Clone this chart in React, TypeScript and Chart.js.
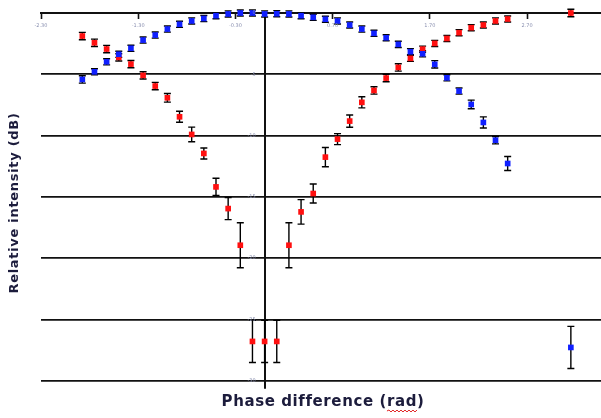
import React, { useEffect, useRef } from "react";
import { Chart, registerables } from "chart.js";

Chart.register(...registerables);

// Phase difference (rad)
const phase = [
  -1.875, -1.75, -1.625, -1.5, -1.375, -1.25, -1.125, -1.0, -0.875, -0.75, -0.625, -0.5,
  -0.375, -0.25, -0.125, 0, 0.125, 0.25, 0.375, 0.5, 0.625, 0.75, 0.875, 1.0, 1.125, 1.25,
  1.375, 1.5, 1.625, 1.75, 1.875, 2.0, 2.125, 2.25, 2.375, 2.5, 3.15,
];

// Red series (dB) and error half-widths
const redIntensity = [
  -1.88, -2.43, -2.94, -3.62, -4.17, -5.09, -5.96, -6.92, -8.47, -9.91, -11.46, -14.19,
  -15.96, -18.95, -26.8, -26.8, -26.8, -18.95, -16.23, -14.73, -11.76, -10.29, -8.82, -7.29,
  -6.32, -5.31, -4.44, -3.7, -2.95, -2.48, -2.08, -1.61, -1.2, -0.98, -0.65, -0.49, 0,
];
const redError = [
  0.3, 0.3, 0.3, 0.3, 0.3, 0.3, 0.3, 0.35, 0.45, 0.6, 0.45, 0.7, 0.9, 1.84, 1.72, 1.72, 1.72,
  1.84, 1.0, 0.78, 0.78, 0.45, 0.5, 0.45, 0.3, 0.3, 0.3, 0.25, 0.25, 0.25, 0.25, 0.25, 0.25,
  0.25, 0.25, 0.25, 0.3,
];

// Blue series (dB) and error half-widths
const blueIntensity = [
  -5.42, -4.8, -3.98, -3.37, -2.88, -2.21, -1.8, -1.31, -0.92, -0.65, -0.45, -0.22, -0.08, 0,
  0, -0.08, -0.06, -0.08, -0.22, -0.35, -0.51, -0.65, -0.98, -1.31, -1.66, -2.02, -2.56, -3.16,
  -3.33, -4.19, -5.29, -6.37, -7.46, -8.93, -10.38, -12.28, -27.29,
];
const blueError = [
  0.3, 0.25, 0.25, 0.25, 0.25, 0.25, 0.25, 0.25, 0.25, 0.25, 0.25, 0.25, 0.25, 0.25, 0.25,
  0.25, 0.25, 0.25, 0.25, 0.25, 0.25, 0.25, 0.25, 0.25, 0.25, 0.25, 0.25, 0.25, 0.25, 0.3,
  0.25, 0.25, 0.35, 0.45, 0.3, 0.57, 1.72,
];

const xTickValues = [-2.3, -1.3, -0.3, 0.7, 1.7, 2.7];
const yTickValues = [0, -5, -10, -15, -20, -25, -30];

const xTitle = "Phase difference (rad)";
const yTitle = "Relative intensity (dB)";

const AXIS_COLOR = "#111111";
const TICK_LABEL_COLOR = "#8a90b0";
const TITLE_COLOR = "#1c1c3c";

const errorBarPlugin = {
  id: "errorBars",
  beforeDatasetsDraw(chart: any) {
    const ctx = chart.ctx;
    const xs = chart.scales.x;
    const ys = chart.scales.y;
    ctx.save();
    ctx.strokeStyle = "#000000";
    ctx.lineWidth = 1.4;
    chart.data.datasets.forEach((ds: any) => {
      const errs: number[] = ds.errors || [];
      ds.data.forEach((pt: any, j: number) => {
        const e = errs[j] || 0;
        const x = xs.getPixelForValue(pt.x);
        const y1 = ys.getPixelForValue(pt.y + e);
        const y2 = ys.getPixelForValue(pt.y - e);
        const cap = 3.5;
        ctx.beginPath();
        ctx.moveTo(x, y1);
        ctx.lineTo(x, y2);
        ctx.moveTo(x - cap, y1);
        ctx.lineTo(x + cap, y1);
        ctx.moveTo(x - cap, y2);
        ctx.lineTo(x + cap, y2);
        ctx.stroke();
      });
    });
    ctx.restore();
  },
};

const labelsPlugin = {
  id: "labelsAndTitles",
  afterDraw(chart: any) {
    const ctx = chart.ctx;
    const xs = chart.scales.x;
    const ys = chart.scales.y;
    ctx.save();
    // x tick labels (below the top axis line)
    ctx.fillStyle = TICK_LABEL_COLOR;
    ctx.font = "5px 'DejaVu Sans'";
    ctx.textAlign = "center";
    ctx.textBaseline = "middle";
    const y0 = ys.getPixelForValue(0);
    xs.ticks.forEach((t: any) => {
      const px = xs.getPixelForValue(t.value);
      ctx.fillText(t.value.toFixed(2), px, y0 + 13);
    });
    // y tick labels (left of the vertical axis)
    const x0 = xs.getPixelForValue(0);
    ctx.textAlign = "right";
    ys.ticks.forEach((t: any) => {
      const py = ys.getPixelForValue(t.value);
      ctx.fillText(String(t.value), x0 - 9, py);
    });
    // x title
    ctx.fillStyle = TITLE_COLOR;
    ctx.font = "bold 15px 'DejaVu Sans'";
    (ctx as any).letterSpacing = "0.6px";
    ctx.textAlign = "center";
    ctx.textBaseline = "middle";
    const cx = 323;
    const cy = 402;
    ctx.fillText(xTitle, cx, cy);
    // red wavy underline under "rad"
    const full = ctx.measureText(xTitle).width;
    const before = ctx.measureText("Phase difference (").width;
    const radW = ctx.measureText("rad").width;
    const startX = cx - full / 2 + before;
    ctx.strokeStyle = "#e02020";
    ctx.lineWidth = 1;
    ctx.beginPath();
    let up = true;
    ctx.moveTo(startX, cy + 9);
    for (let xx = startX + 2; xx <= startX + radW + 1; xx += 2) {
      ctx.lineTo(xx, cy + (up ? 8 : 10));
      up = !up;
    }
    ctx.stroke();
    // y title
    ctx.fillStyle = TITLE_COLOR;
    ctx.font = "bold 13px 'DejaVu Sans'";
    (ctx as any).letterSpacing = "0.7px";
    ctx.translate(15, 203);
    ctx.rotate(-Math.PI / 2);
    ctx.textAlign = "center";
    ctx.textBaseline = "middle";
    ctx.fillText(yTitle, 0, 0);
    ctx.restore();
  },
};

export default function App() {
  const ref = useRef<HTMLCanvasElement | null>(null);

  useEffect(() => {
    if (!ref.current) return;
    const toPoints = (vals: number[]) => vals.map((v, i) => ({ x: phase[i], y: v }));
    const chart = new Chart(ref.current, {
      type: "scatter",
      data: {
        datasets: [
          {
            label: "blue",
            data: toPoints(blueIntensity),
            errors: blueError,
            pointStyle: "rect",
            pointRadius: 4,
            backgroundColor: "#1020ff",
            borderColor: "#1020ff",
            borderWidth: 0,
            clip: false,
          } as any,
          {
            label: "red",
            data: toPoints(redIntensity),
            errors: redError,
            pointStyle: "rect",
            pointRadius: 4,
            backgroundColor: "#ff1010",
            borderColor: "#ff1010",
            borderWidth: 0,
            clip: false,
          } as any,
        ],
      },
      options: {
        responsive: false,
        maintainAspectRatio: false,
        animation: false,
        events: [],
        layout: { autoPadding: false, padding: { left: 41, top: 13, right: 0, bottom: 30 } },
        plugins: {
          legend: { display: false },
          tooltip: { enabled: false },
        },
        scales: {
          x: {
            type: "linear",
            position: { y: 0 } as any,
            min: -2.3,
            max: 3.46,
            afterBuildTicks: (scale: any) => {
              scale.ticks = xTickValues.map((v) => ({ value: v }));
            },
            ticks: { display: false },
            grid: {
              drawOnChartArea: false,
              drawTicks: true,
              tickLength: 5,
              tickWidth: 1.6,
              tickColor: AXIS_COLOR,
            },
            border: { display: true, color: AXIS_COLOR, width: 2 },
          },
          y: {
            type: "linear",
            position: { x: 0 } as any,
            min: -30.6,
            max: 0,
            afterBuildTicks: (scale: any) => {
              scale.ticks = yTickValues.map((v) => ({ value: v }));
            },
            ticks: { display: false },
            grid: {
              drawOnChartArea: true,
              drawTicks: false,
              color: AXIS_COLOR,
              lineWidth: 1.7,
            },
            border: { display: true, color: AXIS_COLOR, width: 2 },
          },
        },
      } as any,
      plugins: [errorBarPlugin, labelsPlugin],
    });
    return () => chart.destroy();
  }, []);

  return (
    <div style={{ position: "fixed", left: 0, top: 0, width: 601, height: 418, background: "#ffffff" }}>
      <canvas ref={ref} width={601} height={418} style={{ display: "block" }} />
    </div>
  );
}
